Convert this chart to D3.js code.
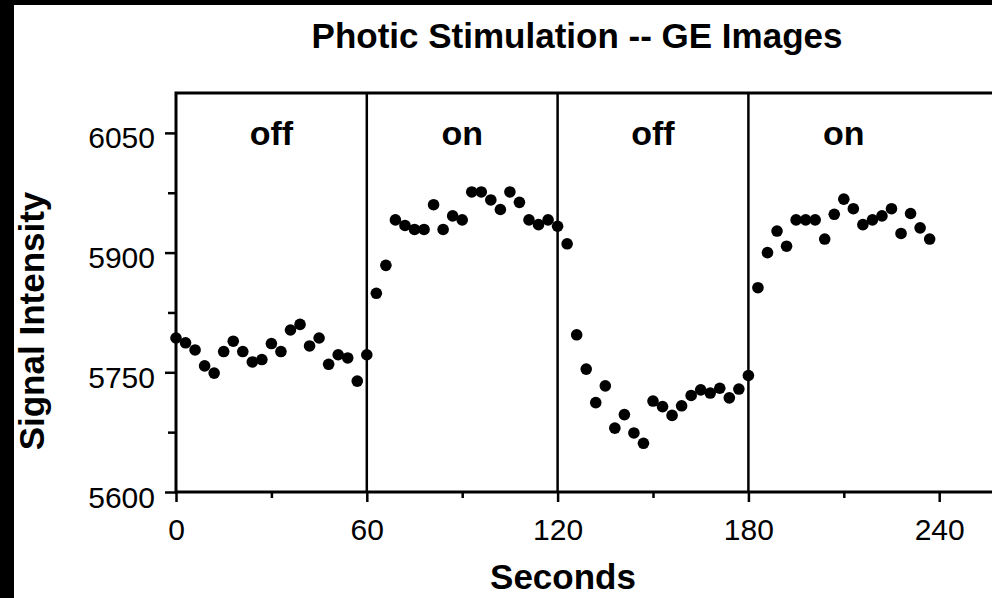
<!DOCTYPE html>
<html>
<head>
<meta charset="utf-8">
<script src="https://cdn.jsdelivr.net/npm/d3@7"></script>
<style>
  body { margin: 0; background: #000; }
  text { font-family: "Liberation Sans", Arial, Helvetica, sans-serif; fill: #000; }
</style>
</head>
<body>
<script>
// data: one sample every 3 s
const seconds = d3.range(0, 240, 3);
const signal = [
  5793, 5787, 5778, 5758, 5749, 5776, 5789, 5776, 5763, 5766,
  5786, 5776, 5803, 5810, 5783, 5793, 5760, 5772, 5768, 5739,
  5772, 5849, 5884, 5941, 5934, 5929, 5929, 5960, 5929, 5946,
  5941, 5976, 5976, 5966, 5954, 5976, 5963, 5941, 5935, 5941,
  5933, 5911, 5797, 5754, 5712, 5733, 5680, 5697, 5674, 5661,
  5714, 5707, 5696, 5708, 5721, 5728, 5724, 5730, 5718, 5729,
  5746, 5856, 5900, 5927, 5908, 5941, 5941, 5941, 5917, 5948,
  5967, 5955, 5935, 5941, 5946, 5955, 5924, 5949, 5931, 5917
];
const blocks = [
  {start: 0, end: 60, label: "off"},
  {start: 60, end: 120, label: "on"},
  {start: 120, end: 180, label: "off"},
  {start: 180, end: 240, label: "on"}
];
const xMajor = [0, 60, 120, 180, 240];
const xMinor = [30, 90, 150, 210];
const yMajor = [5600, 5750, 5900, 6050];
const yMinor = [5675, 5825, 5975];

const width = 992, height = 598;

const svg = d3.select('body')
    .append('svg')
    .attr('width', width)
    .attr('height', height);

// black border left and top, like the scan
svg.append('rect').attr('width', width).attr('height', height).attr('fill', '#000');
svg.append('rect').attr('x', 14).attr('y', 5)
    .attr('width', width - 14).attr('height', height - 5).attr('fill', '#fff');

const x = d3.scaleLinear().domain([0, 270]).range([176, 176 + 270 * 3.18]);
const y = d3.scaleLinear().domain([5600, 6100]).range([492, 93]);

// title
svg.append('text')
    .attr('x', 577).attr('y', 48)
    .attr('text-anchor', 'middle')
    .attr('font-size', 35).attr('font-weight', 'bold')
    .text('Photic Stimulation -- GE Images');

// axes
const yAxis = svg.append('g')
    .attr('transform', `translate(${x(0)},0)`)
    .call(d3.axisLeft(y).tickValues(yMajor).tickSize(11).tickPadding(10).tickFormat(d3.format('d')));
svg.append('g')
    .attr('transform', `translate(${x(0)},0)`)
    .call(d3.axisLeft(y).tickValues(yMinor).tickSize(8).tickFormat(''));

const xAxis = svg.append('g')
    .attr('transform', `translate(0,${y(5600)})`)
    .call(d3.axisBottom(x).tickValues(xMajor).tickSize(10).tickPadding(17));
svg.append('g')
    .attr('transform', `translate(0,${y(5600)})`)
    .call(d3.axisBottom(x).tickValues(xMinor).tickSize(6).tickFormat(''));

svg.selectAll('.domain').remove();
svg.selectAll('.tick line').attr('stroke', '#000').attr('stroke-width', 2.5);
svg.selectAll('.tick text').attr('font-size', 30).attr('fill', '#000');
yAxis.selectAll('.tick text').attr('dy', '0.5em');

// frame and block dividers
svg.append('rect')
    .attr('x', x(0)).attr('y', y(6100))
    .attr('width', x(270) - x(0)).attr('height', y(5600) - y(6100))
    .attr('fill', 'none').attr('stroke', '#000').attr('stroke-width', 3);

svg.selectAll('.divider')
    .data(blocks.slice(1))
    .join('line')
    .attr('class', 'divider')
    .attr('x1', d => x(d.start)).attr('x2', d => x(d.start))
    .attr('y1', y(6100)).attr('y2', y(5600))
    .attr('stroke', '#000').attr('stroke-width', 2.5);

svg.selectAll('.blockLabel')
    .data(blocks)
    .join('text')
    .attr('class', 'blockLabel')
    .attr('x', d => x((d.start + d.end) / 2))
    .attr('y', 145)
    .attr('text-anchor', 'middle')
    .attr('font-size', 34).attr('font-weight', 'bold')
    .text(d => d.label);

// points
svg.selectAll('circle')
    .data(seconds)
    .join('circle')
    .attr('cx', d => x(d))
    .attr('cy', (d, i) => y(signal[i]))
    .attr('r', 5.8)
    .attr('fill', '#000');

// axis titles
svg.append('text')
    .attr('x', 563).attr('y', 589)
    .attr('text-anchor', 'middle')
    .attr('font-size', 35).attr('font-weight', 'bold')
    .text('Seconds');

svg.append('text')
    .attr('transform', 'translate(44,321) rotate(-90)')
    .attr('text-anchor', 'middle')
    .attr('font-size', 35).attr('font-weight', 'bold')
    .text('Signal Intensity');
</script>
</body>
</html>
